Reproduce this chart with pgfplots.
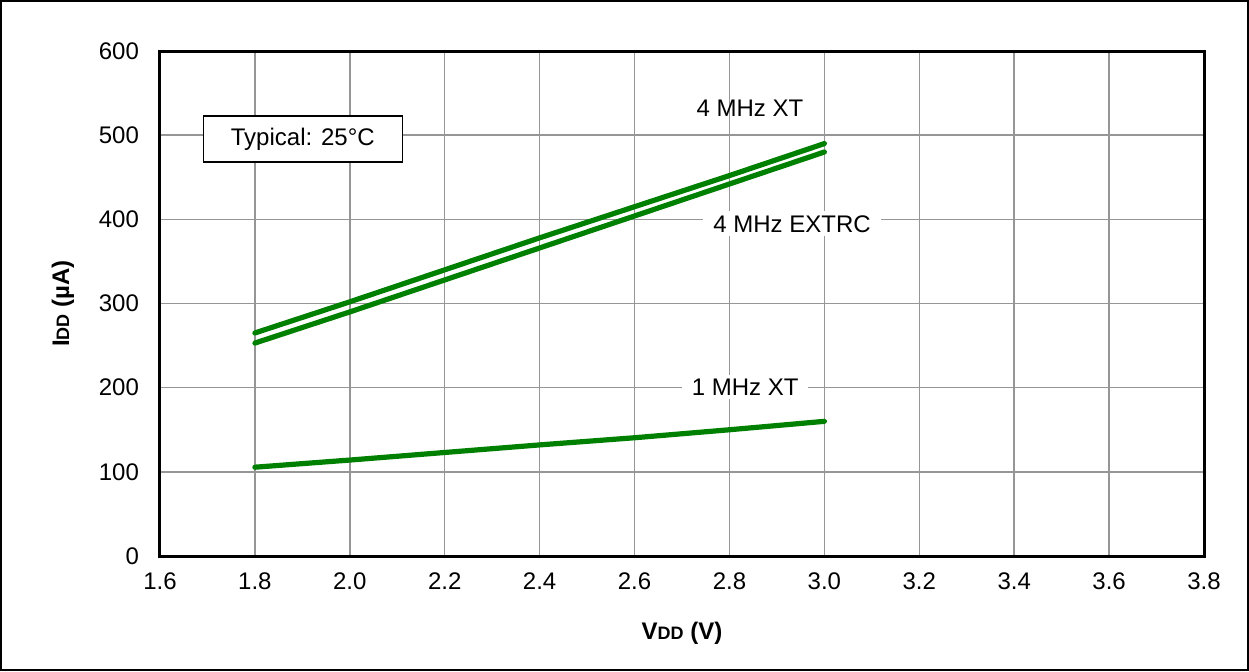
\documentclass[border=0pt]{standalone}
\usepackage{fontspec}
\setmainfont{Liberation Sans}
\usepackage{pgfplots}
\pgfplotsset{compat=1.18}
\definecolor{lgreen}{RGB}{0,128,0}
\definecolor{gridg}{RGB}{150,150,150}
\begin{document}
\begin{tikzpicture}[x=0.5pt,y=0.5pt]
\useasboundingbox (0,0) rectangle (1249,671);
\draw[line width=1pt] (1,1) rectangle (1248,670);
\begin{axis}[
  at={(80pt,57.5pt)}, anchor=south west,
  scale only axis, width=522pt, height=252.5pt,
  xmin=1.6, xmax=3.8, ymin=0, ymax=600,
  xtick={1.6,1.8,...,3.81}, ytick={0,100,...,600},
  xticklabel style={/pgf/number format/.cd,fixed,fixed zerofill,precision=1},
  /pgf/number format/assume math mode=true,
  tick label style={font=\fontsize{12}{14}\selectfont},
  major tick length=0pt,
  grid=major, major grid style={gridg, line width=0.75pt},
  axis line style={line width=1.5pt},
  xticklabel shift=5pt, yticklabel shift=7pt,
  xlabel={\bfseries V{\fontsize{9}{11}\selectfont DD} (V)},
  ylabel={\bfseries I{\fontsize{9}{11}\selectfont DD} (µA)},
  label style={font=\fontsize{12}{14}\selectfont},
  xlabel style={at={(axis description cs:0.5,0)}, anchor=center, yshift=-38.5pt},
  ylabel style={at={(axis description cs:0,0.5)}, anchor=center, yshift=48.5pt},
]
\addplot[lgreen, line width=2.6pt, line cap=round] coordinates {(1.8,265) (2.0,302) (2.2,340) (2.4,378) (2.6,415) (2.8,452) (3.0,490)};
\addplot[lgreen, line width=2.6pt, line cap=round] coordinates {(1.8,253) (2.0,290) (2.2,328) (2.4,366) (2.6,404) (2.8,442) (3.0,480)};
\addplot[lgreen, line width=2.6pt, line cap=round] coordinates {(1.8,105.5) (2.0,114) (2.2,123) (2.4,132) (2.6,140.5) (2.8,150) (3.0,160)};
\node[font=\fontsize{12}{14}\selectfont] at (axis cs:2.843,532) {4 MHz XT};
\node[fill=white, inner xsep=5pt, inner ysep=2pt, font=\fontsize{12}{14}\selectfont] at (axis cs:2.932,394.5) {4 MHz EXTRC};
\node[fill=white, inner xsep=5pt, inner ysep=2pt, font=\fontsize{12}{14}\selectfont] at (axis cs:2.833,200.8) {1 MHz XT};
\node[draw=black, fill=white, line width=0.75pt, minimum width=99.5pt, minimum height=23pt, font=\fontsize{12}{14}\selectfont] at (axis cs:1.901,495.4) {Typical: 25°C};
\end{axis}
\end{tikzpicture}
\end{document}
